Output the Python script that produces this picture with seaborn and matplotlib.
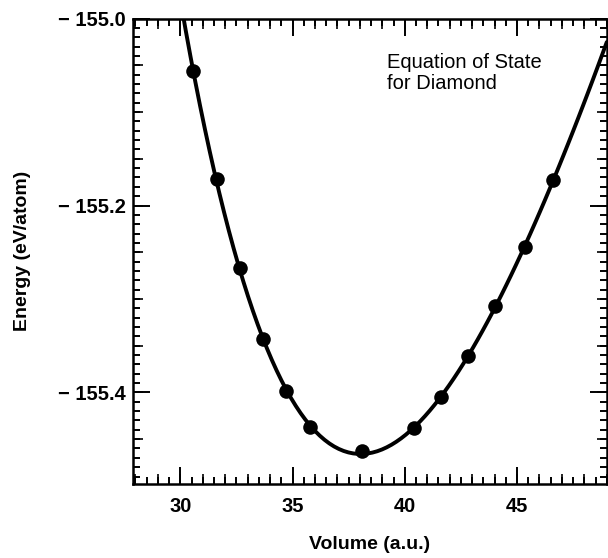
import numpy as np
import pandas as pd
import matplotlib
matplotlib.use("Agg")
import matplotlib.pyplot as plt
from matplotlib.ticker import MultipleLocator, FuncFormatter
import seaborn as sns

# values
volume = [30.56, 31.63, 32.64, 33.67, 34.73, 35.80, 38.08,
          40.41, 41.61, 42.82, 44.04, 45.34, 46.61]
energy = [-155.056, -155.172, -155.267, -155.343, -155.399, -155.437, -155.463,
          -155.438, -155.405, -155.361, -155.308, -155.244, -155.173]
x_ticks = [30, 35, 40, 45]
y_ticks = [-155.0, -155.2, -155.4]
note = "Equation of State\nfor Diamond"

df = pd.DataFrame({"Volume": volume, "Energy": energy})

sns.set_style("ticks")
plt.rcParams["font.family"] = ["Liberation Sans", "DejaVu Sans"]

fig = plt.figure(figsize=(6.08, 5.58), dpi=100)
ax = fig.add_axes([0.219, 0.1326, 0.779, 0.834])
ax.set_xlim(27.9, 49.0)
ax.set_ylim(-155.498, -155.0)

# fitted curve drawn by seaborn across the full x range
sns.regplot(data=df, x="Volume", y="Energy", order=4, ci=None, truncate=False,
            scatter=False, ax=ax, line_kws={"color": "black", "lw": 2.8})
sns.scatterplot(data=df, x="Volume", y="Energy", ax=ax, color="black",
                s=110, edgecolor="black", linewidth=0, zorder=3)

ax.set_xticks(x_ticks)
ax.set_yticks(y_ticks)
ax.xaxis.set_minor_locator(MultipleLocator(0.5))
ax.yaxis.set_minor_locator(MultipleLocator(0.01))
ax.yaxis.set_major_formatter(FuncFormatter(lambda v, p: f"\u2212 {abs(v):.1f}"))
ax.xaxis.set_major_formatter(FuncFormatter(lambda v, p: f"{v:.0f}"))

ax.tick_params(which="both", direction="in", top=True, right=True, width=1.4,
               colors="black")
ax.tick_params(which="major", length=12, labelsize=14.5, pad=5)
ax.tick_params(which="minor", length=5)
ax.tick_params(axis="x", which="major", pad=9)
for lab in ax.get_xticklabels() + ax.get_yticklabels():
    lab.set_fontweight("bold")

# medium ticks (integers on x, 0.05 on y)
for side in ["bottom", "top"]:
    sec = ax.secondary_xaxis(side)
    sec.set_xticks(np.arange(28, 50, 1))
    sec.tick_params(direction="in", length=7.5, width=1.4,
                    labelbottom=False, labeltop=False)
    sec.spines[side].set_visible(False)
for side in ["left", "right"]:
    sec = ax.secondary_yaxis(side)
    sec.set_yticks(np.arange(-155.5, -154.99, 0.05))
    sec.tick_params(direction="in", length=7.5, width=1.4,
                    labelleft=False, labelright=False)
    sec.spines[side].set_visible(False)

for s in ax.spines.values():
    s.set_linewidth(1.8)
    s.set_color("black")

ax.set_xlabel("Volume (a.u.)", fontsize=14, fontweight="bold", labelpad=15,
              color="black")
ax.set_ylabel("Energy (eV/atom)", fontsize=14, fontweight="bold", labelpad=20,
              color="black")

ax.text(39.2, -155.037, note, fontsize=14.5, ha="left", va="top",
        linespacing=1.15, color="black")

fig.savefig("out.png", dpi=100)
